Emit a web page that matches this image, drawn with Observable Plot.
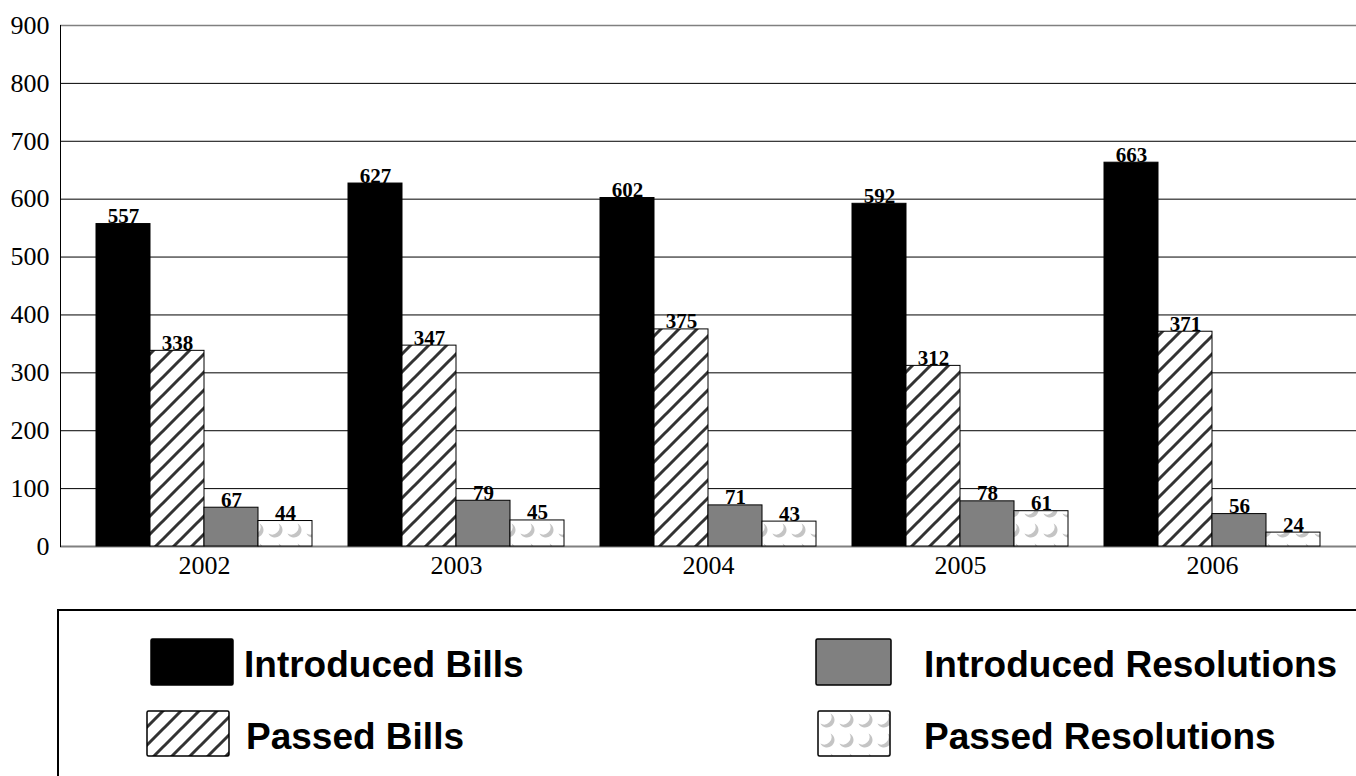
<!DOCTYPE html>
<html>
<head>
<meta charset="utf-8">
<script src="https://cdn.jsdelivr.net/npm/d3@7"></script>
<script src="https://cdn.jsdelivr.net/npm/@observablehq/plot@0.6"></script>
<style>
  html, body { margin: 0; padding: 0; background: #fff; }
  #wrap { position: relative; width: 1356px; height: 776px; overflow: hidden; background: #fff; }
  #bg, #fg { position: absolute; left: 0; top: 0; }
  #bg svg, #fg svg { display: block; }
  #legend { position: absolute; left: 57px; top: 609px; width: 1320px; height: 200px; border: 2px solid #000; box-sizing: border-box; }
  .item { position: absolute; font-family: "Liberation Sans", Arial, sans-serif; font-weight: bold; font-size: 37px; line-height: 1; white-space: nowrap; }
  .sw { position: absolute; }
</style>
</head>
<body>
<svg width="0" height="0" style="position:absolute">
  <defs>
    <pattern id="hatch" patternUnits="userSpaceOnUse" width="18" height="18">
      <rect width="18" height="18" fill="#fff"/>
      <path d="M-4.5,4.5 L4.5,-4.5 M0,18 L18,0 M13.5,22.5 L22.5,13.5" stroke="#333" stroke-width="3"/>
    </pattern>
    <pattern id="moons" patternUnits="userSpaceOnUse" width="19" height="20">
      <rect width="19" height="20" fill="#fff"/>
      <path d="M13.59,3.41 A7.5,7.5 0 1,1 3.41,13.59 A7.5,7.5 0 0,0 13.59,3.41 Z" fill="#c4c4c4"/>
    </pattern>
  </defs>
</svg>
<div id="wrap">
  <div id="bg"></div>
  <div id="fg"></div>
  <div id="legend"></div>
</div>
<script>
const years = ["2002", "2003", "2004", "2005", "2006"];
const series = ["Introduced Bills", "Passed Bills", "Introduced Resolutions", "Passed Resolutions"];
const introducedBills = [557, 627, 602, 592, 663];
const passedBills = [338, 347, 375, 312, 371];
const introducedResolutions = [67, 79, 71, 78, 56];
const passedResolutions = [44, 45, 43, 61, 24];
const yTicks = [0, 100, 200, 300, 400, 500, 600, 700, 800, 900];
const gridTicks = [100, 200, 300, 400, 500, 600, 700, 800];
const fills = ["#000", "url(#hatch)", "#808080", "url(#moons)"];

const valuesBySeries = [introducedBills, passedBills, introducedResolutions, passedResolutions];
const rows = [];
years.forEach((year, i) => {
  series.forEach((s, j) => rows.push({year, series: s, value: valuesBySeries[j][i]}));
});

const common = {
  width: 1356,
  height: 590,
  marginLeft: 60,
  marginRight: 0,
  marginTop: 25,
  marginBottom: 44
};

// Background: gridlines, y axis, left axis line, full-width baseline
const bg = Plot.plot({
  ...common,
  style: {fontFamily: "Liberation Serif, 'Times New Roman', serif", fontSize: "26px", color: "#000", background: "#fff"},
  y: {domain: [0, 900], ticks: yTicks, tickSize: 0, tickPadding: 11, label: null},
  marks: [
    Plot.ruleY(gridTicks, {stroke: "#000", strokeWidth: 1}),
    Plot.ruleY([900], {stroke: "#808080", strokeWidth: 1.5}),
    Plot.ruleY([0], {stroke: "#808080", strokeWidth: 2}),
    Plot.frame({anchor: "left", stroke: "#000", strokeWidth: 1})
  ]
});
document.getElementById("bg").appendChild(bg);

// Foreground: grouped bars faceted by year
const fg = Plot.plot({
  ...common,
  style: {fontFamily: "Liberation Serif, 'Times New Roman', serif", fontSize: "26px", color: "#000", background: "transparent"},
  fx: {domain: years, paddingInner: 0, paddingOuter: 0.0714, axis: "bottom", tickSize: 0, tickPadding: 9, label: null},
  x: {domain: series, paddingInner: 0, paddingOuter: 1 / 3, axis: null},
  y: {domain: [0, 900], axis: null},
  color: {type: "ordinal", domain: series, range: fills},
  marks: [
    Plot.barY(rows, {fx: "year", x: "series", y: "value", fill: "series", stroke: "#000", strokeWidth: 1}),
    Plot.text(rows, {fx: "year", x: "series", y: "value", text: d => String(d.value), lineAnchor: "bottom", dy: -1, fontWeight: "bold", fontSize: 21})
  ]
});
document.getElementById("fg").appendChild(fg);

// Legend (HTML) built from the same series and fills
const legend = document.getElementById("legend");
const legendLayout = [
  {sw: [150 - 57, 638 - 609, 84, 48], tx: [244 - 57, 646 - 609]},
  {sw: [146 - 57, 710 - 609, 84, 47], tx: [246 - 57, 718 - 609]},
  {sw: [815 - 57, 638 - 609, 77, 48], tx: [924 - 57, 646 - 609]},
  {sw: [817 - 57, 710 - 609, 74, 47], tx: [924 - 57, 718 - 609]}
];
series.forEach((s, j) => {
  const L = legendLayout[j];
  const ns = "http://www.w3.org/2000/svg";
  const svg = document.createElementNS(ns, "svg");
  svg.setAttribute("class", "sw");
  svg.setAttribute("width", L.sw[2]);
  svg.setAttribute("height", L.sw[3]);
  svg.style.left = (L.sw[0] - 2) + "px";
  svg.style.top = (L.sw[1] - 2) + "px";
  const r = document.createElementNS(ns, "rect");
  r.setAttribute("x", 1); r.setAttribute("y", 1);
  r.setAttribute("width", L.sw[2] - 2); r.setAttribute("height", L.sw[3] - 2);
  r.setAttribute("fill", fills[j]);
  r.setAttribute("stroke", "#000");
  r.setAttribute("stroke-width", 1.5);
  r.setAttribute("rx", 1.5);
  svg.appendChild(r);
  legend.appendChild(svg);
  const t = document.createElement("div");
  t.className = "item";
  t.textContent = s;
  t.style.left = (L.tx[0] - 2) + "px";
  t.style.top = (L.tx[1] - 2) + "px";
  legend.appendChild(t);
});
</script>
</body>
</html>
